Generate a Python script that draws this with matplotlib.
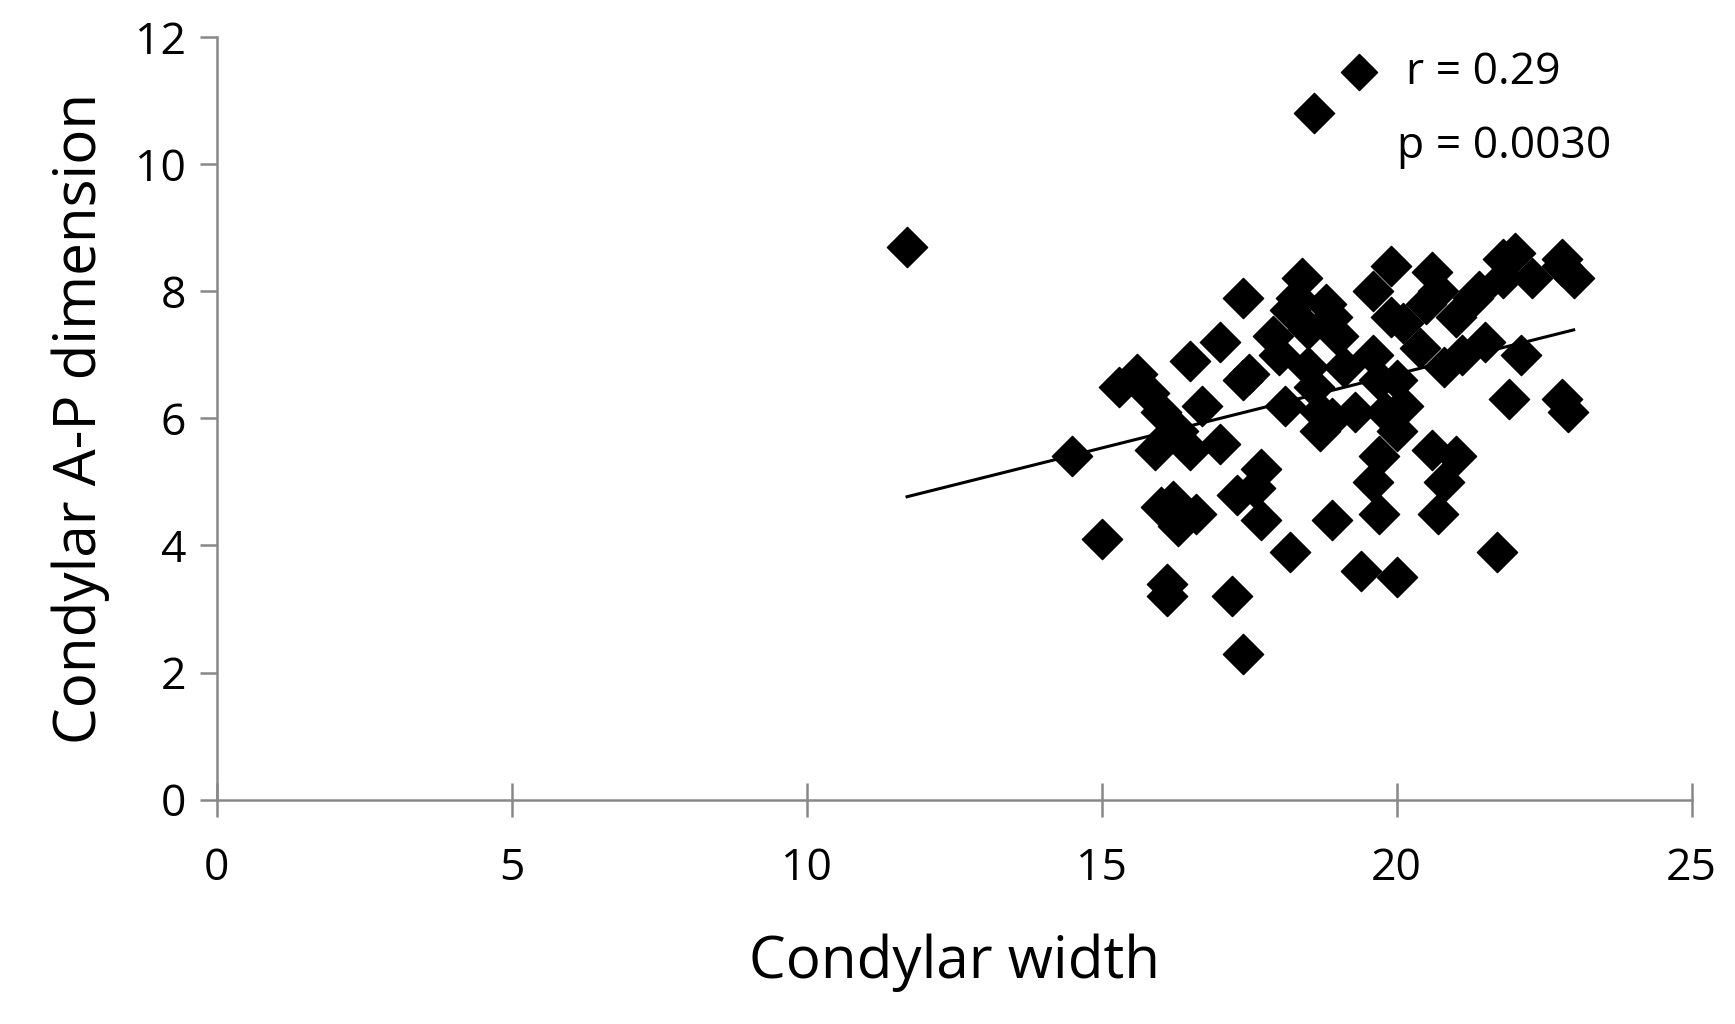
import matplotlib
matplotlib.use("Agg")
import matplotlib.pyplot as plt
import numpy as np

plt.rcParams['font.family'] = ['Open Sans', 'DejaVu Sans']

# condylar width vs A-P dimension
width = [11.7, 18.6, 14.5, 15.0, 15.3, 15.6, 15.8, 16.0, 15.9, 16.1, 16.3, 16.5, 16.5, 16.7,
         16.6, 16.2, 16.3, 16.0, 16.1, 16.1, 17.0, 17.0, 17.2, 17.3, 17.4, 17.4, 17.4, 17.5,
         17.6, 17.7, 17.7, 17.9, 18.0, 18.1, 18.2, 18.2, 18.3, 18.4, 18.5, 18.5, 18.6, 18.7,
         18.7, 18.8, 18.9, 18.9, 18.9, 19.0, 19.1, 19.3, 19.4, 19.6, 19.6, 19.7, 19.7, 19.6,
         19.7, 19.8, 19.9, 19.9, 20.0, 20.0, 20.0, 20.1, 20.1, 20.4, 20.5, 20.6, 20.6, 20.7,
         20.7, 20.8, 20.8, 21.0, 21.0, 21.1, 21.3, 21.4, 21.5, 21.7, 21.8, 21.8, 21.9, 22.1,
         22.3, 22.8, 22.8, 22.9, 23.0, 22.8, 22.0]
ap_dim = [8.7, 10.8, 5.4, 4.1, 6.5, 6.7, 6.4, 6.1, 5.5, 5.7, 5.8, 5.5, 6.9, 6.2,
          4.5, 4.7, 4.3, 4.6, 3.4, 3.2, 7.2, 5.6, 3.2, 4.8, 2.3, 7.9, 6.6, 6.7,
          4.9, 5.2, 4.4, 7.3, 7.0, 6.2, 7.7, 3.9, 7.9, 8.2, 7.4, 6.8, 6.5, 6.1,
          5.8, 7.8, 7.6, 6.0, 4.4, 7.3, 6.8, 6.1, 3.6, 8.0, 7.0, 6.6, 5.4, 5.0,
          4.5, 6.1, 8.4, 7.6, 6.6, 5.8, 3.5, 6.2, 7.5, 7.1, 7.8, 8.3, 5.5, 8.0,
          4.5, 6.8, 5.0, 7.6, 5.4, 7.0, 7.9, 8.0, 7.2, 3.9, 8.5, 8.2, 6.3, 7.0,
          8.2, 8.4, 6.3, 6.1, 8.2, 8.5, 8.6]

x = np.array(width)
y = np.array(ap_dim)

fig = plt.figure(figsize=(17.35, 10.24), dpi=100)
ax = fig.add_axes([0.125, 0.219, 0.85, 0.745])

ax.scatter(x, y, marker='D', s=420, color='black', zorder=3, label='r = 0.29')
slope, icpt = np.polyfit(x, y, 1)
xl = np.array([x.min(), x.max()])
ax.plot(xl, slope * xl + icpt + 0.1, color='black', lw=2.2)

ax.set_xlim(0, 25)
ax.set_ylim(0, 12)
ax.set_xticks(range(0, 26, 5))
ax.set_yticks(range(0, 13, 2))
ax.spines['top'].set_visible(False)
ax.spines['right'].set_visible(False)
for s in ['left', 'bottom']:
    ax.spines[s].set_color('#888888')
    ax.spines[s].set_linewidth(1.8)
ax.tick_params(direction='out', length=12, width=1.8, color='#888888', labelsize=32, pad=10)
ax.tick_params(axis='x', direction='inout', length=24, pad=22)
ax.set_xlabel('Condylar width', fontsize=42, labelpad=30)
ax.set_ylabel('Condylar A-P dimension', fontsize=42, labelpad=18)

ax.legend(loc='upper left', bbox_to_anchor=(0.725, 1.035), frameon=False, fontsize=32,
          handletextpad=0.3, handlelength=1.5, markerscale=0.9)
ax.text(0.80, 0.856, 'p = 0.0030', transform=ax.transAxes, fontsize=32, va='center')

fig.savefig('out.png')
